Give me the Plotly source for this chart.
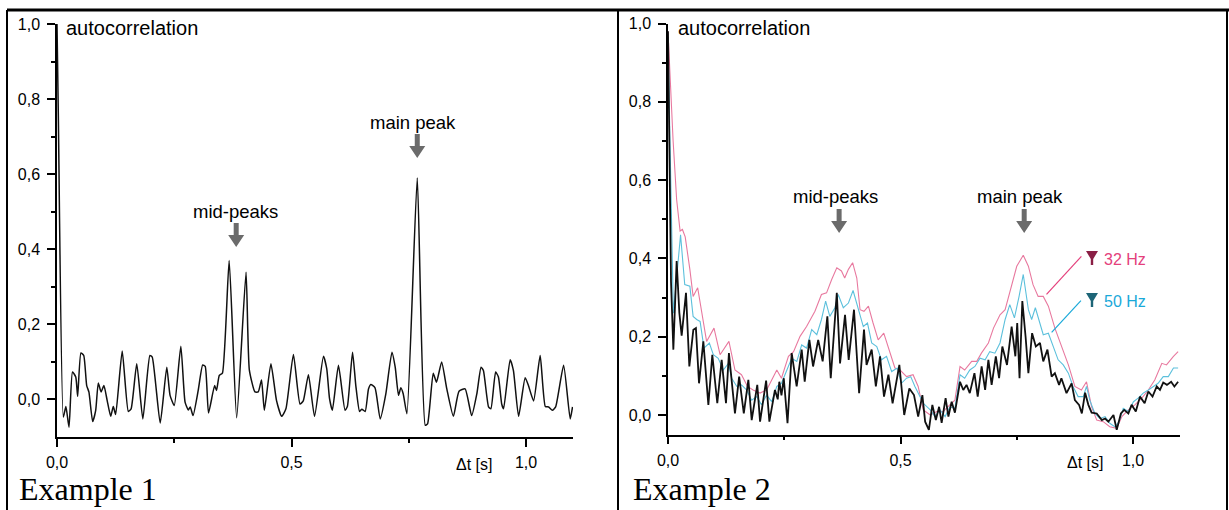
import plotly.graph_objects as go

W, H = 1229, 510

# ---------------- data ----------------
# Example 1: autocorrelation, single curve  (Δt [s], value)
ex1_t = [0.0, 0.003, 0.0135, 0.019, 0.0256, 0.033, 0.040, 0.044, 0.051, 0.057, 0.0633, 0.068, 0.076, 0.0825,
         0.088, 0.094, 0.100, 0.107, 0.1145, 0.120, 0.125, 0.139, 0.152, 0.158, 0.170, 0.183, 0.198, 0.203,
         0.220, 0.234, 0.241, 0.250, 0.264, 0.273, 0.280, 0.284, 0.290, 0.301, 0.3106, 0.316, 0.323, 0.336,
         0.340, 0.346, 0.3526, 0.367, 0.383, 0.403, 0.410, 0.422, 0.429, 0.436, 0.442, 0.456, 0.468, 0.479,
         0.488, 0.504, 0.518, 0.525, 0.536, 0.549, 0.568, 0.575, 0.581, 0.587, 0.600, 0.614, 0.619, 0.630,
         0.637, 0.645, 0.650, 0.657, 0.664, 0.669, 0.678, 0.689, 0.701, 0.714, 0.721, 0.728, 0.733, 0.738,
         0.746, 0.768, 0.785, 0.790, 0.802, 0.809, 0.820, 0.831, 0.845, 0.857, 0.870, 0.884, 0.895, 0.904,
         0.909, 0.920, 0.925, 0.935, 0.941, 0.948, 0.952, 0.966, 0.973, 0.984, 0.998, 1.005, 1.016, 1.030,
         1.041, 1.048, 1.056, 1.063, 1.080, 1.094, 1.099]
ex1_v = [1.0, 0.74, -0.047, -0.019, -0.074, 0.073, 0.060, 0.008, 0.124, 0.117, 0.037, 0.020, -0.059, -0.029,
         0.044, 0.020, 0.037, -0.003, -0.045, -0.019, -0.040, 0.129, -0.032, -0.025, 0.095, -0.052, 0.117, 0.113,
         -0.063, 0.086, 0.011, -0.016, 0.142, -0.007, -0.028, -0.020, -0.043, 0.024, 0.092, 0.088, -0.036, 0.037,
         0.024, 0.064, 0.070, 0.370, -0.049, 0.339, 0.079, 0.020, 0.020, 0.052, -0.029, 0.095, -0.003, -0.045,
         -0.025, 0.120, -0.012, -0.004, 0.066, -0.045, 0.115, 0.082, 0.002, -0.029, 0.091, -0.029, -0.019, 0.126,
         0.037, -0.032, -0.026, -0.032, 0.028, 0.040, 0.031, -0.052, 0.015, 0.126, 0.086, 0.011, 0.031, 0.015,
         -0.038, 0.590, -0.069, -0.065, 0.070, 0.046, 0.100, 0.028, -0.045, 0.022, 0.028, -0.043, 0.015, 0.086,
         0.077, -0.020, -0.025, 0.073, 0.060, -0.012, -0.025, 0.106, 0.077, -0.045, 0.058, 0.037, -0.004, 0.117,
         -0.019, -0.020, -0.029, -0.020, 0.091, -0.052, -0.020]

# Example 2: unfiltered (black) curve as (Δt, value) pairs
ex2_black = [(0.0, 0.98), (0.004, 0.60), (0.0065, 0.34), (0.0115, 0.167), (0.0186, 0.393), (0.0244, 0.261),
             (0.0294, 0.203), (0.0387, 0.312), (0.0459, 0.124), (0.0545, 0.218), (0.060, 0.222), (0.0667, 0.081),
             (0.076, 0.188), (0.0868, 0.026), (0.0953, 0.154), (0.106, 0.030), (0.1154, 0.141), (0.1247, 0.030),
             (0.131, 0.158), (0.144, 0.004), (0.153, 0.098), (0.163, 0.004), (0.1728, 0.090), (0.180, -0.013),
             (0.192, 0.077), (0.198, -0.017), (0.211, 0.088), (0.218, -0.017), (0.230, 0.064), (0.236, 0.040),
             (0.2394, 0.085), (0.244, 0.050), (0.249, 0.094), (0.257, -0.021), (0.266, 0.158), (0.2767, 0.073),
             (0.2875, 0.167), (0.294, 0.085), (0.304, 0.192), (0.312, 0.124), (0.323, 0.192), (0.3326, 0.137),
             (0.3427, 0.252), (0.350, 0.094), (0.363, 0.312), (0.370, 0.132), (0.3807, 0.256), (0.3886, 0.141),
             (0.400, 0.269), (0.411, 0.056), (0.4215, 0.218), (0.427, 0.128), (0.438, 0.167), (0.447, 0.073),
             (0.456, 0.150), (0.4645, 0.047), (0.474, 0.103), (0.483, 0.030), (0.4975, 0.128), (0.508, 0.000),
             (0.519, 0.068), (0.529, 0.051), (0.538, -0.004), (0.547, 0.051), (0.553, -0.017), (0.561, -0.038),
             (0.5685, 0.026), (0.576, -0.013), (0.583, 0.021), (0.5885, -0.020), (0.597, 0.043), (0.603, -0.004),
             (0.610, 0.034), (0.617, 0.006), (0.628, 0.085), (0.635, 0.064), (0.642, 0.077), (0.649, 0.056),
             (0.659, 0.107), (0.666, 0.047), (0.6745, 0.124), (0.682, 0.064), (0.689, 0.141), (0.696, 0.077),
             (0.705, 0.150), (0.712, 0.094), (0.719, 0.175), (0.729, 0.128), (0.739, 0.226), (0.747, 0.150),
             (0.751, 0.235), (0.756, 0.094), (0.762, 0.291), (0.769, 0.200), (0.775, 0.107), (0.783, 0.209),
             (0.791, 0.175), (0.800, 0.184), (0.807, 0.137), (0.816, 0.167), (0.825, 0.098), (0.832, 0.107),
             (0.841, 0.077), (0.846, 0.094), (0.857, 0.056), (0.868, 0.081), (0.875, 0.038), (0.884, 0.026),
             (0.890, 0.004), (0.897, 0.057), (0.904, 0.026), (0.911, 0.006), (0.922, 0.004), (0.933, -0.013),
             (0.940, -0.009), (0.947, -0.017), (0.958, 0.000), (0.965, -0.038), (0.974, 0.004), (0.981, 0.013),
             (0.990, 0.004), (0.997, 0.026), (1.006, 0.009), (1.015, 0.047), (1.025, 0.030), (1.033, 0.060),
             (1.042, 0.047), (1.051, 0.073), (1.058, 0.064), (1.065, 0.083), (1.073, 0.077), (1.082, 0.085),
             (1.089, 0.073), (1.097, 0.085)]

# Example 2: 50 Hz filtered (cyan)
ex2_50hz = [(0.0, 0.96), (0.005, 0.62), (0.0115, 0.26), (0.027, 0.46), (0.036, 0.333), (0.047, 0.329),
            (0.054, 0.252), (0.0617, 0.244), (0.069, 0.239), (0.0774, 0.171), (0.0889, 0.184), (0.0975, 0.154),
            (0.108, 0.145), (0.119, 0.115), (0.130, 0.132), (0.137, 0.094), (0.148, 0.073), (0.158, 0.077),
            (0.169, 0.064), (0.180, 0.038), (0.191, 0.047), (0.201, 0.026), (0.212, 0.051), (0.223, 0.034),
            (0.234, 0.073), (0.244, 0.081), (0.255, 0.115), (0.266, 0.145), (0.277, 0.137), (0.2875, 0.179),
            (0.298, 0.171), (0.309, 0.218), (0.320, 0.205), (0.330, 0.244), (0.339, 0.291), (0.348, 0.252),
            (0.359, 0.274), (0.366, 0.308), (0.377, 0.274), (0.388, 0.286), (0.398, 0.318), (0.409, 0.269),
            (0.420, 0.226), (0.429, 0.235), (0.438, 0.184), (0.449, 0.175), (0.459, 0.141), (0.470, 0.150),
            (0.481, 0.111), (0.493, 0.120), (0.502, 0.081), (0.513, 0.094), (0.522, 0.098), (0.531, 0.073),
            (0.549, 0.030), (0.564, 0.013), (0.574, -0.004), (0.585, 0.013), (0.596, -0.004), (0.606, 0.021),
            (0.617, 0.017), (0.628, 0.103), (0.638, 0.094), (0.649, 0.115), (0.660, 0.124), (0.671, 0.145),
            (0.682, 0.141), (0.692, 0.162), (0.703, 0.158), (0.714, 0.184), (0.725, 0.244), (0.735, 0.282),
            (0.745, 0.248), (0.755, 0.303), (0.764, 0.359), (0.775, 0.269), (0.782, 0.244), (0.790, 0.274),
            (0.800, 0.231), (0.807, 0.205), (0.818, 0.209), (0.828, 0.179), (0.839, 0.141), (0.850, 0.128),
            (0.861, 0.107), (0.871, 0.073), (0.882, 0.047), (0.893, 0.047), (0.900, 0.073), (0.907, 0.038),
            (0.918, 0.004), (0.929, -0.009), (0.940, -0.004), (0.950, -0.021), (0.961, -0.030), (0.970, -0.017),
            (0.979, 0.017), (0.990, 0.009), (1.001, 0.034), (1.011, 0.043), (1.022, 0.056), (1.033, 0.064),
            (1.044, 0.073), (1.054, 0.081), (1.065, 0.098), (1.076, 0.098), (1.087, 0.120), (1.097, 0.120)]

# Example 2: 32 Hz filtered (pink)
ex2_32hz = [(0.0, 0.98), (0.011, 0.70), (0.0186, 0.55), (0.026, 0.47), (0.031, 0.474), (0.037, 0.455),
            (0.047, 0.372), (0.054, 0.303), (0.0638, 0.325), (0.0724, 0.261), (0.083, 0.188), (0.0989, 0.222),
            (0.112, 0.154), (0.131, 0.188), (0.144, 0.115), (0.158, 0.103), (0.171, 0.073), (0.183, 0.064),
            (0.198, 0.056), (0.212, 0.064), (0.223, 0.090), (0.234, 0.115), (0.244, 0.094), (0.259, 0.150),
            (0.270, 0.162), (0.284, 0.201), (0.298, 0.226), (0.316, 0.265), (0.330, 0.308), (0.341, 0.312),
            (0.352, 0.346), (0.363, 0.376), (0.373, 0.368), (0.380, 0.350), (0.388, 0.372), (0.397, 0.389),
            (0.406, 0.350), (0.413, 0.269), (0.4215, 0.265), (0.431, 0.278), (0.441, 0.235), (0.452, 0.192),
            (0.464, 0.209), (0.477, 0.158), (0.488, 0.120), (0.499, 0.115), (0.513, 0.098), (0.527, 0.103),
            (0.538, 0.073), (0.549, 0.013), (0.564, 0.000), (0.578, 0.009), (0.592, 0.009), (0.606, 0.026),
            (0.617, 0.038), (0.628, 0.124), (0.638, 0.115), (0.653, 0.137), (0.664, 0.137), (0.674, 0.158),
            (0.689, 0.184), (0.700, 0.222), (0.714, 0.256), (0.725, 0.269), (0.735, 0.312), (0.750, 0.380),
            (0.764, 0.408), (0.775, 0.380), (0.785, 0.333), (0.796, 0.303), (0.807, 0.303), (0.818, 0.278),
            (0.832, 0.222), (0.846, 0.175), (0.861, 0.128), (0.875, 0.073), (0.889, 0.064), (0.900, 0.085),
            (0.911, 0.021), (0.922, -0.013), (0.936, -0.017), (0.950, -0.030), (0.965, -0.034), (0.976, -0.004),
            (0.990, 0.013), (1.004, 0.026), (1.019, 0.043), (1.033, 0.064), (1.047, 0.090), (1.062, 0.132),
            (1.072, 0.128), (1.087, 0.150), (1.097, 0.162)]

x_ticks = [0.0, 0.5, 1.0]
y_ticks = [0.0, 0.2, 0.4, 0.6, 0.8, 1.0]
panel_titles = ["Example 1", "Example 2"]
filter_labels = ["32 Hz", "50 Hz"]
# annotation anchors (Δt) for the arrows
ex1_mid_t, ex1_main_t = 0.382, 0.768
ex2_mid_t, ex2_main_t = 0.368, 0.766

# ---------------- helpers ----------------
def fx(p):
    return p / W

def fy(p):
    return 1 - p / H

PINK_LINE = "#e8799f"
CYAN_LINE = "#5cc0dc"
PINK_TXT = "#e4407c"
CYAN_TXT = "#1aa9d9"
FONT = "Arial, Liberation Sans, sans-serif"

fig = go.Figure()

fig.add_trace(go.Scatter(x=ex1_t, y=ex1_v, mode="lines", xaxis="x", yaxis="y",
                         line=dict(color="#111111", width=1.5, shape="spline", smoothing=0.5),
                         showlegend=False, hoverinfo="skip"))

for data, col, wd in [(ex2_32hz, PINK_LINE, 1.1), (ex2_50hz, CYAN_LINE, 1.1), (ex2_black, "#111111", 1.8)]:
    fig.add_trace(go.Scatter(x=[p[0] for p in data], y=[p[1] for p in data], mode="lines",
                             xaxis="x2", yaxis="y2", line=dict(color=col, width=wd),
                             showlegend=False, hoverinfo="skip"))

axis_common = dict(showline=True, linecolor="black", linewidth=1.5, ticks="outside", ticklen=8,
                   tickwidth=1.5, tickcolor="black", showgrid=False, zeroline=False, automargin=False,
                   tickfont=dict(family=FONT, size=16, color="black"), tickformat=".1f")

fig.update_layout(
    template="none",
    width=W, height=H, margin=dict(l=0, r=0, t=0, b=0, pad=0), autosize=False,
    paper_bgcolor="white", plot_bgcolor="white", separators=",.",
    xaxis=dict(domain=[fx(57), fx(573)], range=[0, 1.1], anchor="y", tickvals=x_ticks,
               minor=dict(tickvals=[0.25, 0.75], ticklen=4, ticks="outside", tickcolor="black", tickwidth=1.5),
               ticklabelstandoff=2, **axis_common),
    yaxis=dict(domain=[fy(437), fy(24)], range=[-0.1, 1.0], anchor="x", tickvals=y_ticks,
               minor=dict(tickvals=[0.1, 0.3, 0.5, 0.7, 0.9], ticklen=4, ticks="outside", tickcolor="black",
                          tickwidth=1.5),
               ticklabelstandoff=4, **axis_common),
    xaxis2=dict(domain=[fx(668), fx(1179.5)], range=[0, 1.1], anchor="y2", tickvals=x_ticks,
                minor=dict(tickvals=[0.25, 0.75], ticklen=4, ticks="outside", tickcolor="black", tickwidth=1.5),
                ticklabelstandoff=2, **axis_common),
    yaxis2=dict(domain=[fy(434.6), fy(23.5)], range=[-0.05, 1.0], anchor="x2", tickvals=y_ticks,
                minor=dict(tickvals=[0.1, 0.3, 0.5, 0.7, 0.9], ticklen=4, ticks="outside", tickcolor="black",
                           tickwidth=1.5),
                ticklabelstandoff=4, **axis_common),
)

ann = []
def text(x, y, s, size, color="black", family=FONT, xanchor="center"):
    ann.append(dict(x=x, y=y, xref="paper", yref="paper", text=s, showarrow=False, xanchor=xanchor,
                    yanchor="middle", font=dict(family=family, size=size, color=color)))

# panel texts
text(fx(64), fy(28), "autocorrelation", 20, xanchor="left")
text(fx(676), fy(28), "autocorrelation", 20, xanchor="left")
text(fx(474), fy(464), "Δt [s]", 16)
text(fx(1085), fy(462), "Δt [s]", 16)
text(fx(17), fy(489), panel_titles[0], 32, family="Liberation Serif, Times New Roman, serif", xanchor="left")
text(fx(631), fy(489), panel_titles[1], 32, family="Liberation Serif, Times New Roman, serif", xanchor="left")
text(fx(235), fy(211), "mid-peaks", 18.5)
text(fx(413), fy(122), "main peak", 18.5)
text(fx(835), fy(197), "mid-peaks", 18.5)
text(fx(1020), fy(197), "main peak", 18.5)
# filter labels
text(fx(1102), fy(259), filter_labels[0], 16, color=PINK_TXT, xanchor="left")
text(fx(1102), fy(301), filter_labels[1], 16, color=CYAN_TXT, xanchor="left")
fig.update_layout(annotations=ann)

shapes = []
# block arrows (tip at anchor, pixel-sized)
arrow_path = "M -2.5 24 L 2.5 24 L 2.5 12 L 8 12 L 0 0 L -8 12 L -2.5 12 Z"
for xr, t, tip in [("x", ex1_mid_t, 247), ("x", ex1_main_t, 158), ("x2", ex2_mid_t, 233), ("x2", ex2_main_t, 233)]:
    shapes.append(dict(type="path", xref=xr, yref="paper", xsizemode="pixel", ysizemode="pixel",
                       xanchor=t, yanchor=fy(tip), path=arrow_path, fillcolor="#6b6b6b",
                       line=dict(width=0)))

# funnel icons for the filter labels
funnel = "M -6 7 L 6 7 L 1.2 -1 L 1.2 -7 L -1.2 -7 L -1.2 -1 Z"
for yy, col in [(258, "#8a1f45"), (300, "#1d6577")]:
    shapes.append(dict(type="path", xref="paper", yref="paper", xsizemode="pixel", ysizemode="pixel",
                       xanchor=fx(1092), yanchor=fy(yy), path=funnel, fillcolor=col, line=dict(width=0)))

# leader lines from labels to curves
shapes.append(dict(type="line", xref="x2", yref="y2", x0=0.814, y0=0.308, x1=0.889, y1=0.405,
                   line=dict(color=PINK_TXT, width=1.2)))
shapes.append(dict(type="line", xref="x2", yref="y2", x0=0.825, y0=0.211, x1=0.888, y1=0.292,
                   line=dict(color=CYAN_TXT, width=1.2)))

# frame
for x0, y0, x1, y1, w in [(7, 10, 1229, 10, 3), (7, 10, 7, 510, 2), (618, 10, 618, 510, 2),
                          (1227, 10, 1227, 510, 2)]:
    shapes.append(dict(type="line", xref="paper", yref="paper", x0=fx(x0), y0=fy(y0), x1=fx(x1), y1=fy(y1),
                       line=dict(color="black", width=w)))

fig.update_layout(shapes=shapes)
fig.write_html("out.html", config={"displayModeBar": False},
               post_script="document.body.style.margin='0';document.body.style.overflow='hidden';")
